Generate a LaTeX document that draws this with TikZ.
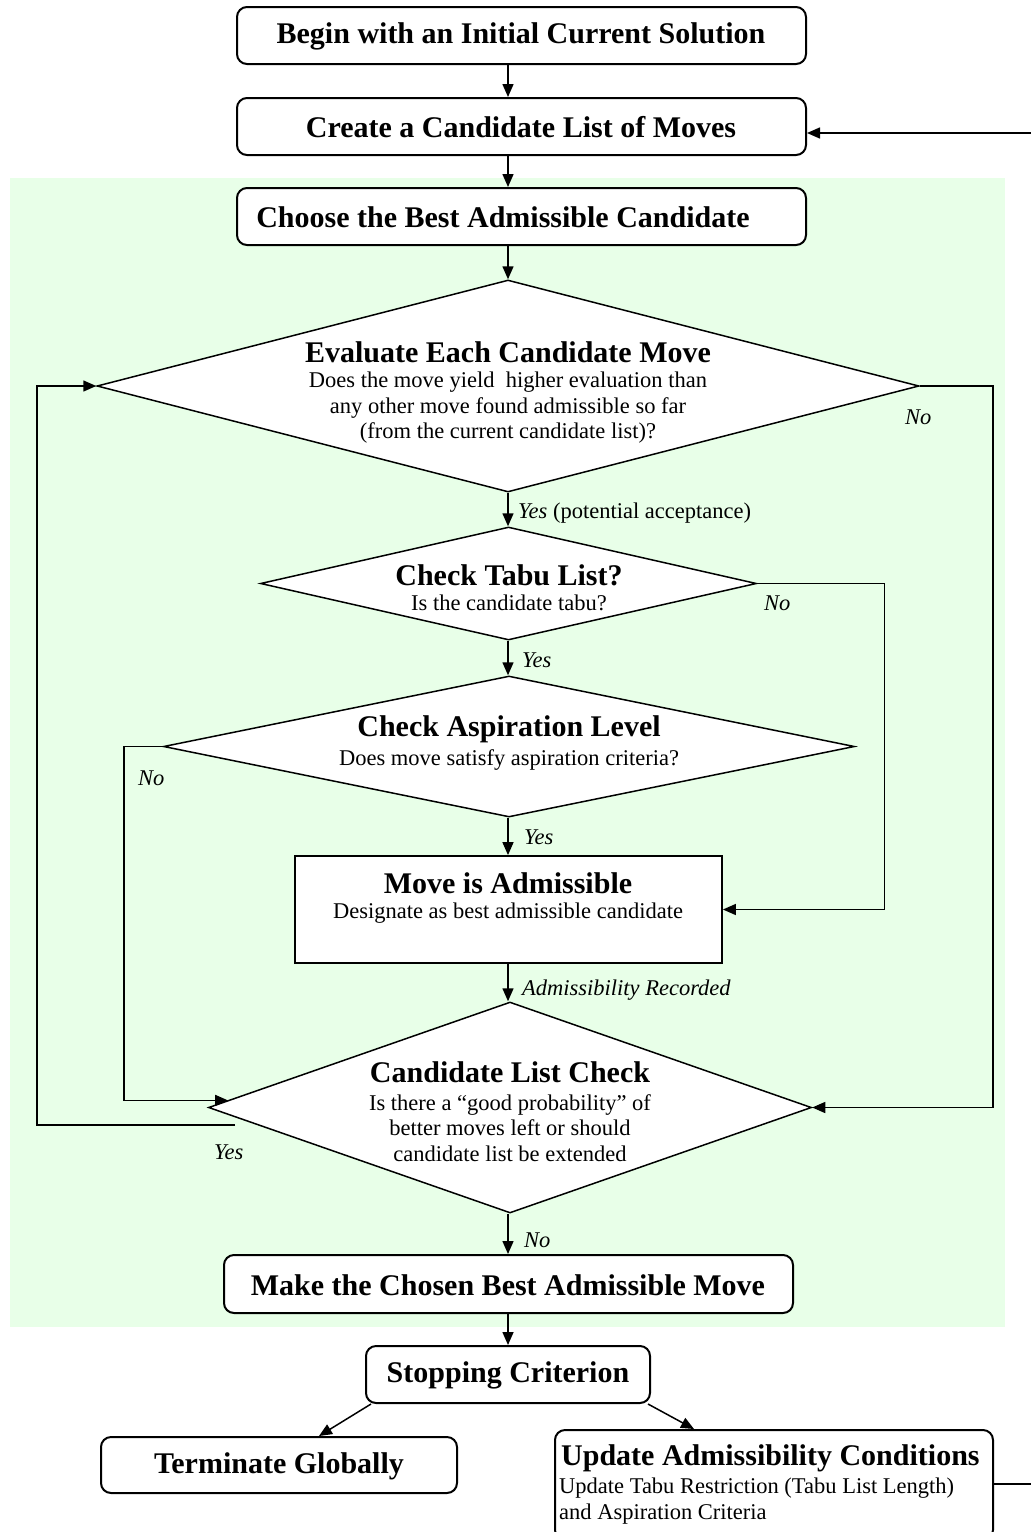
\documentclass[tikz,border=0pt]{standalone}
\usepackage{fontspec}
\setmainfont{Liberation Serif}
\usetikzlibrary{arrows.meta,shapes.geometric,calc}

\definecolor{zonegreen}{RGB}{232,255,232}

\newcommand{\ttl}{\bfseries\fontsize{30}{33}\selectfont}
\newcommand{\bdy}{\fontsize{22.5}{25.5}\selectfont}

\tikzset{
  arr/.style={line width=1.5pt,-{Triangle[length=13pt,width=11pt]}},
  ln/.style={line width=1.5pt},
  rbox/.style={draw,line width=2pt,rounded corners=10pt,fill=white,inner sep=0pt},
  sbox/.style={draw,line width=1.8pt,fill=white,inner sep=0pt},
  dec/.style={draw,diamond,line width=1.5pt,fill=white,inner sep=0pt},
  txt/.style={inner sep=0pt,align=center},
  lbl/.style={inner sep=0pt,anchor=west,font=\bdy\itshape},
}

\begin{document}
\begin{tikzpicture}[x=1pt,y=-1pt]
\useasboundingbox (0,0) rectangle (1031,1532);

% shaded zone of the inner search loop
\fill[zonegreen] (10,178) rectangle (1005,1327);

% vertical axis of the main flow
\coordinate (ax) at (508,0);

% boxes
\node[rbox,minimum width=569,minimum height=57] (b1) at (521.5,35.5) {};
\node[txt,font=\ttl] (b1t) at (521,36) {Begin with an Initial Current Solution};
\node[rbox,minimum width=569,minimum height=57] (b2) at (521.5,126.5) {};
\node[txt,font=\ttl] (b2t) at (521,127) {Create a Candidate List of Moves};
\node[rbox,minimum width=569,minimum height=57] (b3) at (521.5,216.5) {};
\node[txt,font=\ttl] (b3t) at (503,217) {Choose the Best Admissible Candidate};

% decision 1
\node[dec,minimum width=822,minimum height=212] (d1) at (508,386) {};
\node[txt,font=\ttl] (d1t) at (508,352) {Evaluate Each Candidate Move};
\node[txt,font=\bdy] (d1b) at (508,408) {Does the move yield\ \ higher evaluation than\\any other move found admissible so far\\(from the current candidate list)?};

% decision 2
\node[dec,minimum width=496,minimum height=113] (d2) at (508.5,583.5) {};
\node[txt,font=\ttl] (d2t) at (509,575) {Check Tabu List?};
\node[txt,font=\bdy] (d2b) at (509,603) {Is the candidate tabu?};

% decision 3
\node[dec,minimum width=691,minimum height=141] (d3) at (509,746.5) {};
\node[txt,font=\ttl] (d3t) at (509,729) {Check Aspiration Level};
\node[txt,font=\bdy] (d3b) at (509,760) {Does move satisfy aspiration criteria?};

% admissible move
\node[sbox,minimum width=427,minimum height=107] (b4) at (508.5,909.5) {};
\node[txt,font=\ttl] (b4t) at (508,883) {Move is Admissible};
\node[txt,font=\bdy] (b4b) at (508,913) {Designate as best admissible candidate};

% decision 4
\node[dec,minimum width=603,minimum height=211] (d4) at (510,1107.5) {};
\node[txt,font=\ttl] (d4t) at (510,1072) {Candidate List Check};
\node[txt,font=\bdy] (d4b) at (510,1128) {Is there a \textquotedblleft good probability\textquotedblright\ of\\better moves left or should\\candidate list be extended};

% make move
\node[rbox,minimum width=569,minimum height=58] (b5) at (508.5,1284) {};
\node[txt,font=\ttl] (b5t) at (508,1285) {Make the Chosen Best Admissible Move};

% stopping
\node[rbox,minimum width=284,minimum height=57] (b6) at (508,1374.5) {};
\node[txt,font=\ttl] (b6t) at (508,1375) {Stopping Criterion};
\node[rbox,minimum width=356,minimum height=56] (b7) at (279,1465) {};
\node[txt,font=\ttl] (b7t) at (279,1466) {Terminate Globally};
\node[rbox,minimum width=438,minimum height=110] (b8) at (774,1485) {};
\node[txt,font=\ttl,anchor=west] (b8t) at (561,1458) {Update Admissibility Conditions};
\node[txt,font=\bdy,anchor=west,align=left] (b8b) at (559,1501) {Update Tabu Restriction (Tabu List Length)\\and Aspiration Criteria};

% main flow
\draw[arr] (b1.south -| ax) -- (b2.north -| ax);
\draw[arr] (b2.south -| ax) -- (b3.north -| ax);
\draw[arr] (b3.south -| ax) -- (d1.north -| ax);
\draw[arr] (d1.south -| ax) -- (d2.north -| ax);
\draw[arr] (d2.south -| ax) -- (d3.north -| ax);
\draw[arr] (d3.south -| ax) -- (b4.north -| ax);
\draw[arr] (b4.south -| ax) -- (d4.north -| ax);
\draw[arr] (d4.south -| ax) -- (b5.north -| ax);
\draw[arr] (b5.south -| ax) -- (b6.north -| ax);
\draw[arr] ($(b6.south west)+(6,0)$) -- ($(b7.north)+(40,0)$);
\draw[arr] ($(b6.south east)+(-3,0)$) -- ($(b8.north)+(-80,0)$);

% feedback to candidate list
\coordinate (rin) at (1031,133);
\draw[arr] (rin) -- (rin -| b2.east);
\coordinate (rout) at (1031,1484);
\draw[ln] (rout -| b8.east) -- (rout);

% side branches
\draw[arr] (d1.east) -- ++(73,0) |- (d4.east);
\draw[arr] (d2.east) -- ++(127,0) |- (b4.east);
\coordinate (d4l) at ($(d4.west)!0.067!(d4.north)$);
\draw[arr] (d3.west) -- ++(-39,0) |- (d4l);
\coordinate (ys) at (235,1125);
\coordinate (yl) at (37,1125);
\draw[arr] (ys) -- (yl) |- (d1.west);

% branch labels
\node[lbl] (l1) at (518,513) {Yes \upshape(potential acceptance)};
\node[lbl] (l2) at (522,660) {Yes};
\node[lbl] (l3) at (524,837) {Yes};
\node[lbl] (l4) at (522,990) {Admissibility Recorded};
\node[lbl] (l5) at (524,1240) {No};
\node[lbl] (l6) at (905,417) {No};
\node[lbl] (l7) at (764,603) {No};
\node[lbl] (l8) at (138,778) {No};
\node[lbl] (l9) at (214,1152) {Yes};
\end{tikzpicture}
\end{document}
